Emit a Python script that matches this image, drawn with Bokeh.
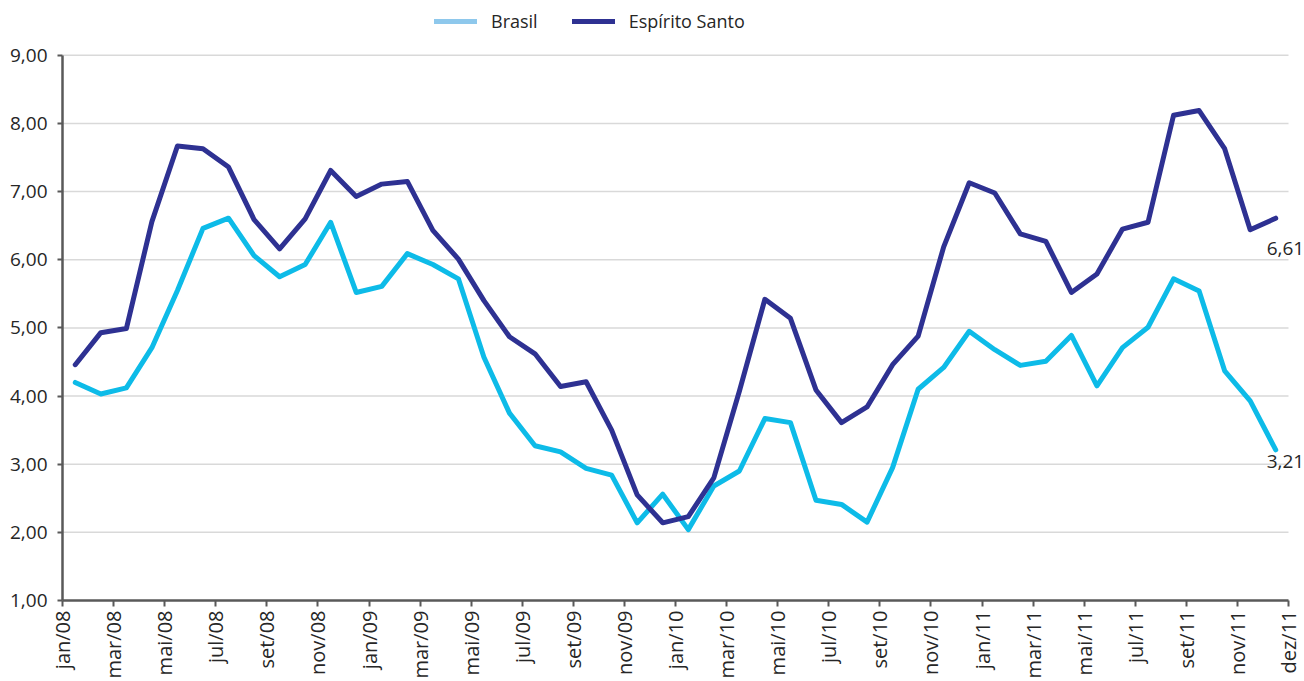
import math
from bokeh.plotting import figure
from bokeh.models import FixedTicker, Legend, LegendItem, Label, Range1d, ColumnDataSource
from bokeh.embed import file_html
from bokeh.resources import INLINE

# ---- data ----
brasil = [4.20, 4.03, 4.12, 4.71, 5.55, 6.46, 6.61, 6.06, 5.75, 5.93,
          6.55, 5.52, 5.61, 6.09, 5.93, 5.72, 4.57, 3.75, 3.27, 3.18,
          2.94, 2.84, 2.14, 2.56, 2.04, 2.68, 2.90, 3.67, 3.61, 2.47,
          2.41, 2.15, 2.95, 4.10, 4.42, 4.95, 4.68, 4.45, 4.51, 4.89,
          4.15, 4.71, 5.01, 5.72, 5.54, 4.37, 3.93, 3.21]
espirito_santo = [4.46, 4.93, 4.99, 6.56, 7.67, 7.63, 7.36, 6.59, 6.16, 6.60,
                  7.31, 6.93, 7.11, 7.15, 6.43, 6.01, 5.40, 4.87, 4.62, 4.14,
                  4.21, 3.50, 2.55, 2.14, 2.23, 2.80, 4.07, 5.42, 5.14, 4.09,
                  3.61, 3.84, 4.46, 4.88, 6.19, 7.13, 6.98, 6.38, 6.27, 5.52,
                  5.79, 6.45, 6.55, 8.12, 8.19, 7.63, 6.44, 6.61]
x_tick_labels = ["jan/08", "mar/08", "mai/08", "jul/08", "set/08", "nov/08",
                 "jan/09", "mar/09", "mai/09", "jul/09", "set/09", "nov/09",
                 "jan/10", "mar/10", "mai/10", "jul/10", "set/10", "nov/10",
                 "jan/11", "mar/11", "mai/11", "jul/11", "set/11", "nov/11",
                 "dez/11"]
y_ticks = [1, 2, 3, 4, 5, 6, 7, 8, 9]
y_tick_labels = ["1,00", "2,00", "3,00", "4,00", "5,00", "6,00", "7,00", "8,00", "9,00"]
series_names = ["Brasil", "Espírito Santo"]

# ---- layout / styling ----
W, H = 1304, 681
LEFT, BOTTOM = 62, 79          # frame left edge / bottom panel height (px)
PLOT_RIGHT_PX = 1288           # where the category axis ends
TOP_PX = 55                    # where the top tick sits
FONT = "Open Sans"
TXT = "#262626"
C_BR = "#0DBBE8"
C_ES = "#2E3192"
C_BR_LEG = "#8EC8EC"
AX = "#595959"

n = len(brasil)
xs = [i + 0.5 for i in range(n)]
src = ColumnDataSource(dict(x=xs, br=brasil, es=espirito_santo))

frame_w = W - LEFT
frame_h = H - BOTTOM
x_end = n * frame_w / (PLOT_RIGHT_PX - LEFT)
y0, y1 = y_ticks[0], y_ticks[-1]
y_end = y0 + (y1 - y0) * frame_h / (frame_h - TOP_PX)

p = figure(width=W, height=H, output_backend="svg", toolbar_location=None,
           x_range=Range1d(0, x_end), y_range=Range1d(y0, y_end),
           min_border_left=LEFT, min_border_right=0, min_border_top=0,
           min_border_bottom=BOTTOM)
p.outline_line_color = None
p.background_fill_color = "white"
p.border_fill_color = "white"

p.xgrid.visible = False
p.ygrid.visible = False
# horizontal gridlines only across the category span
p.segment(x0=0, x1=n, y0=y_ticks[1:], y1=y_ticks[1:], line_color="#D9D9D9",
          line_width=1.5, level="underlay")

# x axis
xt = list(range(0, n + 1, 2))
p.xaxis.ticker = FixedTicker(ticks=xt)
p.xaxis.bounds = (0, n)
p.xaxis.major_label_overrides = {t: lbl for t, lbl in zip(xt, x_tick_labels)}
p.xaxis.major_label_orientation = math.pi / 2
p.xaxis.axis_line_color = AX
p.xaxis.axis_line_width = 2.5
p.xaxis.major_tick_line_color = AX
p.xaxis.major_tick_line_width = 2
p.xaxis.major_tick_out = 6
p.xaxis.major_tick_in = 0
p.xaxis.minor_tick_line_color = None
p.xaxis.major_label_standoff = 4
p.xaxis.major_label_text_font = FONT
p.xaxis.major_label_text_font_size = "20px"
p.xaxis.major_label_text_color = TXT

# y axis
p.yaxis.ticker = FixedTicker(ticks=y_ticks)
p.yaxis.bounds = (y0, y1)
p.yaxis.major_label_overrides = {t: lbl for t, lbl in zip(y_ticks, y_tick_labels)}
p.yaxis.axis_line_color = AX
p.yaxis.axis_line_width = 2.5
p.yaxis.major_tick_line_color = AX
p.yaxis.major_tick_line_width = 2
p.yaxis.major_tick_out = 5
p.yaxis.major_tick_in = 0
p.yaxis.minor_tick_line_color = None
p.yaxis.major_label_standoff = 10
p.yaxis.major_label_text_font = FONT
p.yaxis.major_label_text_font_size = "19px"
p.yaxis.major_label_text_color = TXT

# lines
p.line("x", "br", source=src, line_color=C_BR, line_width=5, line_join="round", line_cap="round")
p.line("x", "es", source=src, line_color=C_ES, line_width=5, line_join="round", line_cap="round")

# legend swatches (legend-only renderers with no visible data)
nan = float("nan")
leg_br = p.line(x=[nan, nan], y=[nan, nan], line_color=C_BR_LEG, line_width=5, line_cap="round")
leg_es = p.line(x=[nan, nan], y=[nan, nan], line_color=C_ES, line_width=5, line_cap="round")
legend = Legend(items=[LegendItem(label=series_names[0], renderers=[leg_br]),
                       LegendItem(label=series_names[1], renderers=[leg_es])],
                orientation="horizontal", location=(372, 567),
                border_line_color=None, background_fill_alpha=0,
                glyph_width=43, glyph_height=20, label_standoff=14, spacing=34,
                padding=0, margin=0, label_text_font=FONT,
                label_text_font_size="18px", label_text_color=TXT)
p.add_layout(legend)

# end labels
fmt = lambda v: f"{v:.2f}".replace(".", ",")
p.add_layout(Label(x=xs[-1], y=espirito_santo[-1], text=fmt(espirito_santo[-1]),
                   x_offset=-9, y_offset=-24, text_baseline="top", text_align="left",
                   text_font=FONT, text_font_size="19px", text_color=TXT))
p.add_layout(Label(x=xs[-1], y=brasil[-1], text=fmt(brasil[-1]),
                   x_offset=-9, y_offset=-5, text_baseline="top", text_align="left",
                   text_font=FONT, text_font_size="19px", text_color=TXT))

open("out.html", "w").write(file_html(p, INLINE))
